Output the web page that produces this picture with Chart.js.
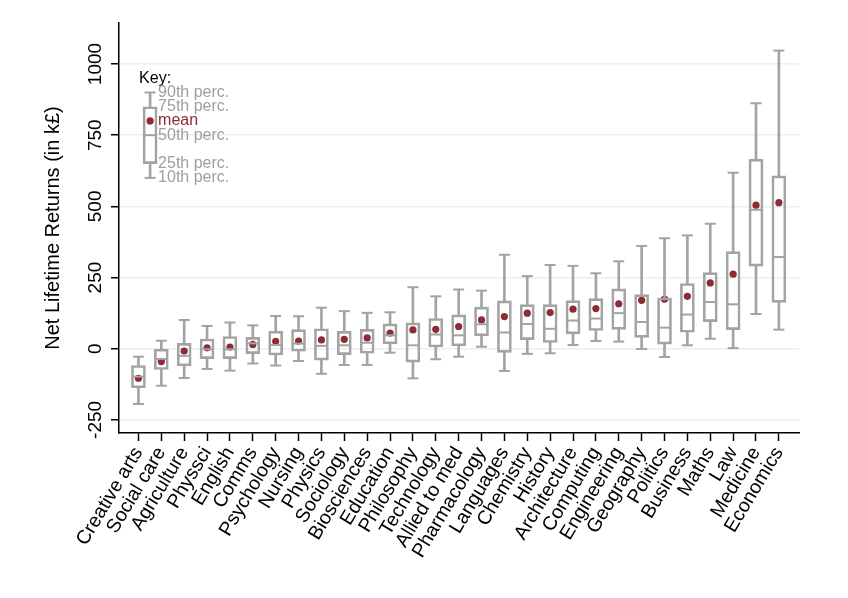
<!DOCTYPE html>
<html>
<head>
<meta charset="utf-8">
<script src="https://cdn.jsdelivr.net/npm/chart.js@4.4.1/dist/chart.umd.min.js"></script>
<style>
  html, body { margin: 0; padding: 0; background: #fff; }
  #wrap { width: 848px; height: 598px; }
</style>
</head>
<body>
<div id="wrap"><canvas id="myChart" width="848" height="598"></canvas></div>
<script>
// subjects, ordered by mean return
const subjects = [
  "Creative arts", "Social care", "Agriculture", "Physsci", "English", "Comms",
  "Psychology", "Nursing", "Physics", "Sociology", "Biosciences", "Education",
  "Philosophy", "Technology", "Allied to med", "Pharmacology", "Languages",
  "Chemistry", "History", "Architecture", "Computing", "Engineering",
  "Geography", "Politics", "Business", "Maths", "Law", "Medicine", "Economics",
];

// percentiles and means, in k£
const p10 = [-194, -130, -103, -71, -77, -52, -59, -43, -88, -57, -57, -14, -104, -37, -28, 7, -78, -18, -16, 13, 27, 25, -1, -29, 12, 35, 2, 122, 67];
const p25 = [-137, -73, -60, -35, -35, -17, -22, -9, -40, -21, -16, 17, -47, 6, 10, 45, -13, 32, 22, 52, 64, 68, 40, 16, 58, 95, 67, 290, 163];
const p50 = [-98, -36, -25, -2, -2, 19, 13, 18, 10, 12, 21, 47, 12, 50, 47, 86, 57, 87, 70, 99, 106, 125, 94, 74, 120, 164, 156, 488, 322];
const p75 = [-59, -2, 19, 34, 43, 40, 62, 67, 70, 61, 68, 87, 91, 106, 119, 146, 168, 155, 155, 169, 176, 210, 190, 178, 229, 267, 341, 666, 607];
const p90 = [-28, 28, 101, 80, 92, 82, 115, 114, 144, 132, 126, 128, 216, 184, 208, 204, 330, 255, 294, 291, 265, 307, 361, 388, 398, 439, 618, 862, 1047];
const means = [-104, -45, -8, 3, 6, 15, 26, 27, 31, 33, 38, 55, 66, 68, 78, 101, 113, 125, 127, 139, 141, 158, 170, 174, 184, 231, 262, 504, 513];

const yTicks = [-250, 0, 250, 500, 750, 1000];

// the "Key:" example box
const keyX = 1.51;
const keyBox = [600, 650, 750, 850, 900]; // p10, p25, p50, p75, p90
const keyMean = 800;
const keyTitleY = 947;
const keyLabels = ["10th perc.", "25th perc.", "50th perc.", "75th perc.", "90th perc."];

const GREY = "#a3a3a3";
const RED = "#8e2b36";
const FONT = '"Liberation Sans", Arial, Helvetica, sans-serif';

Chart.defaults.font.family = FONT;

const spans = (lo, hi) => lo.map((v, i) => ({ x: i + 1, y: [v, hi[i]] }));
const pts = (arr) => arr.map((v, i) => ({ x: i + 1, y: v }));

const lowWhisk = spans(p10, p25).concat([{ x: keyX, y: [keyBox[0], keyBox[1]] }]);
const highWhisk = spans(p75, p90).concat([{ x: keyX, y: [keyBox[3], keyBox[4]] }]);
const boxes = spans(p25, p75).concat([{ x: keyX, y: [keyBox[1], keyBox[3]] }]);
const caps = pts(p10).concat(pts(p90), [{ x: keyX, y: keyBox[0] }, { x: keyX, y: keyBox[4] }]);
const medians = pts(p50).concat([{ x: keyX, y: keyBox[2] }]);
const meanPts = pts(means).concat([{ x: keyX, y: keyMean }]);

const textPlugin = {
  id: "extraText",
  afterDraw(chart) {
    const { ctx } = chart;
    const x = chart.scales.x;
    const y = chart.scales.y;
    ctx.save();
    // rotated y tick labels
    ctx.font = "19px " + FONT;
    ctx.fillStyle = "#000";
    ctx.textAlign = "center";
    ctx.textBaseline = "middle";
    yTicks.forEach((v) => {
      ctx.save();
      ctx.translate(y.right - 23, y.getPixelForValue(v));
      ctx.rotate(-Math.PI / 2);
      ctx.fillText(String(v), 0, 0);
      ctx.restore();
    });
    // key text
    const kx = x.getPixelForValue(keyX);
    ctx.font = "16px " + FONT;
    ctx.textAlign = "left";
    ctx.fillStyle = "#000";
    ctx.fillText("Key:", kx - 11, y.getPixelForValue(keyTitleY));
    ctx.fillStyle = "#9e9e9e";
    keyLabels.forEach((t, i) => {
      ctx.fillText(t, kx + 8, y.getPixelForValue(keyBox[i]));
    });
    ctx.fillStyle = RED;
    ctx.fillText("mean", kx + 8, y.getPixelForValue(keyMean));
    ctx.restore();
  },
};

new Chart(document.getElementById("myChart"), {
  type: "bar",
  data: {
    datasets: [
      {
        data: lowWhisk,
        backgroundColor: GREY,
        borderWidth: 0,
        barThickness: 2,
        grouped: false,
      },
      {
        data: highWhisk,
        backgroundColor: GREY,
        borderWidth: 0,
        barThickness: 2,
        grouped: false,
      },
      {
        data: boxes,
        backgroundColor: "rgba(255,255,255,0)",
        borderColor: GREY,
        borderWidth: 2,
        borderSkipped: false,
        barThickness: 14,
        grouped: false,
      },
      {
        type: "scatter",
        data: caps,
        pointStyle: "line",
        radius: 5.5,
        borderWidth: 2,
        borderColor: GREY,
      },
      {
        type: "scatter",
        data: medians,
        pointStyle: "line",
        radius: 6,
        borderWidth: 2,
        borderColor: GREY,
      },
      {
        type: "scatter",
        data: meanPts,
        pointStyle: "circle",
        radius: 3.6,
        borderWidth: 0,
        backgroundColor: RED,
      },
    ],
  },
  options: {
    responsive: false,
    animation: false,
    events: [],
    layout: { padding: { top: 23, right: 49, bottom: 0, left: 0 } },
    plugins: { legend: { display: false }, tooltip: { enabled: false } },
    scales: {
      x: {
        type: "linear",
        offset: false,
        min: 0.15,
        max: 29.88,
        afterBuildTicks: (s) => {
          s.ticks = subjects.map((_, i) => ({ value: i + 1 }));
        },
        afterFit: (s) => {
          s.height = 165;
        },
        ticks: {
          autoSkip: false,
          minRotation: 59,
          maxRotation: 59,
          padding: 2,
          color: "#000",
          font: { size: 19.5 },
          callback: (v) => subjects[v - 1] || "",
        },
        grid: {
          offset: false,
          drawOnChartArea: false,
          tickLength: 8,
          tickColor: "#000",
          tickWidth: 1.5,
        },
        border: { color: "#000", width: 1.5 },
      },
      y: {
        type: "linear",
        min: -296,
        max: 1144,
        afterBuildTicks: (s) => {
          s.ticks = yTicks.map((v) => ({ value: v }));
        },
        afterFit: (s) => {
          s.width = 119;
        },
        ticks: { color: "rgba(0,0,0,0)", font: { size: 19 } },
        grid: {
          color: "#e8f0f2",
          lineWidth: 1.5,
          tickLength: 8,
          tickColor: "#000",
          tickWidth: 1.5,
        },
        border: { color: "#000", width: 1.5 },
        title: {
          display: true,
          text: "Net Lifetime Returns (in k£)",
          color: "#000",
          font: { size: 20 },
          padding: { top: 41, bottom: 0 },
        },
      },
    },
  },
  plugins: [textPlugin],
});
</script>
</body>
</html>
